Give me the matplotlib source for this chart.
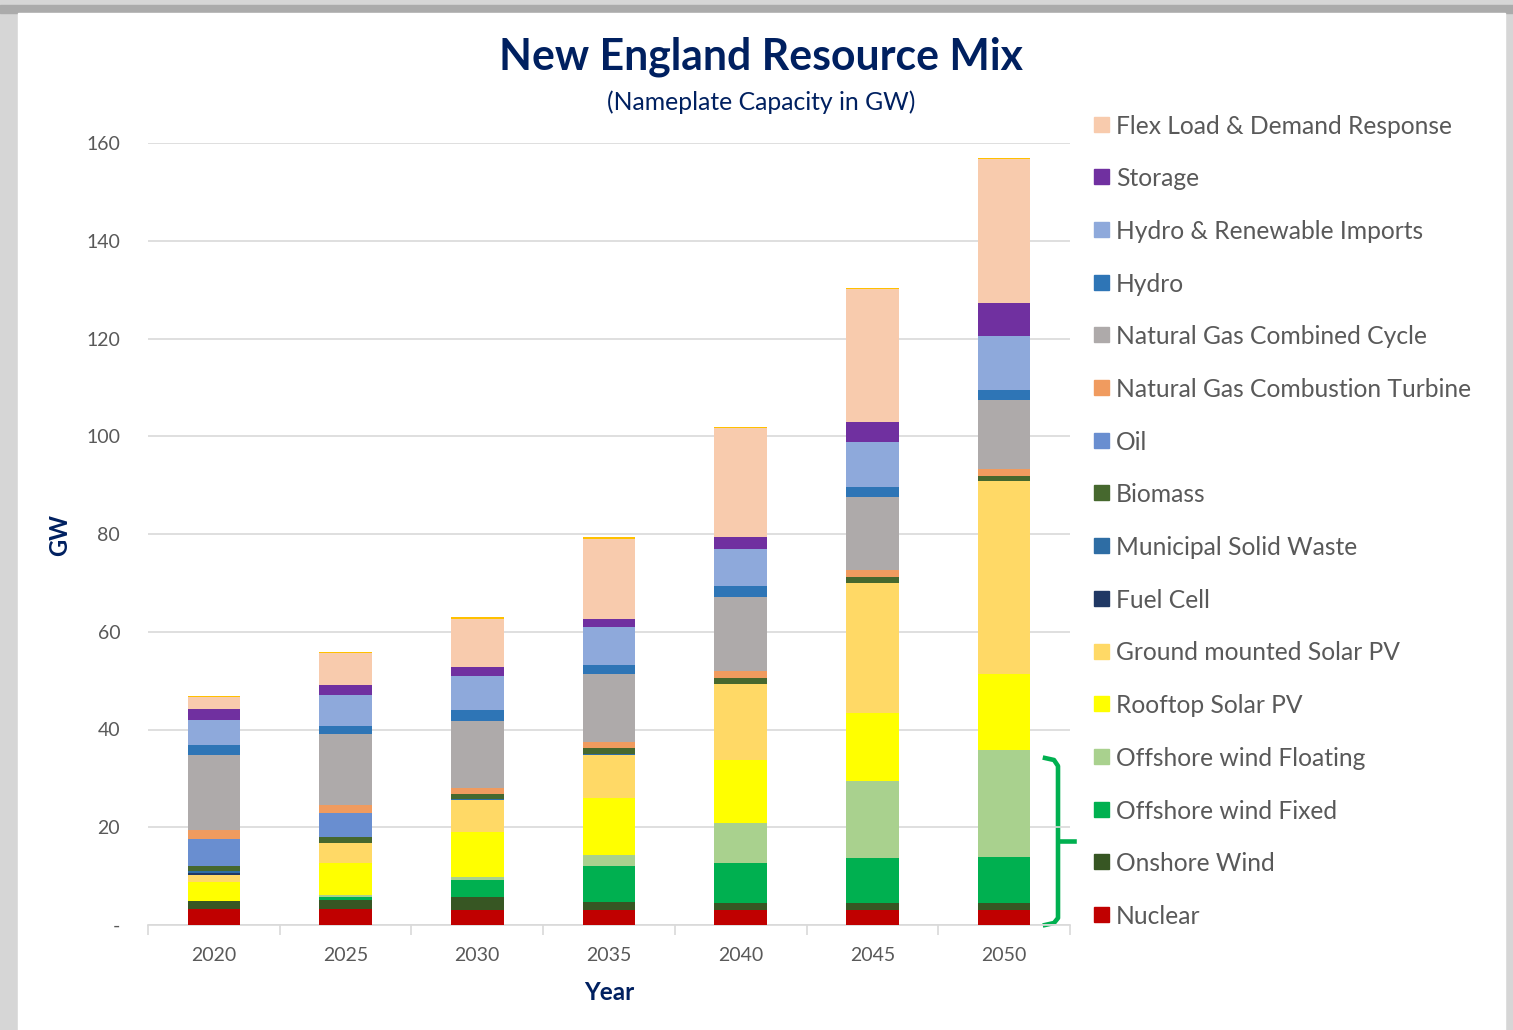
import matplotlib.pyplot as plt
from matplotlib.patches import Rectangle
from matplotlib.lines import Line2D
import numpy as np

plt.rcParams['font.family'] = ['Lato', 'DejaVu Sans']

# data (GW)
years = ['2020', '2025', '2030', '2035', '2040', '2045', '2050']
nuclear = [3.2, 3.2, 3.0, 3.0, 3.1, 3.1, 3.0]
onshore_wind = [1.8, 2.0, 2.7, 1.8, 1.4, 1.4, 1.4]
offshore_fixed = [0.0, 0.5, 3.6, 7.2, 8.1, 9.2, 9.5]
offshore_floating = [0.0, 0.4, 0.6, 2.3, 8.3, 15.7, 21.9]
rooftop_pv = [3.9, 6.5, 9.2, 11.6, 12.8, 13.9, 15.6]
ground_pv = [1.4, 4.2, 6.4, 8.9, 15.7, 26.6, 39.5]
fuel_cell = [0.3, 0.0, 0.0, 0.0, 0.0, 0.0, 0.0]
msw = [0.4, 0.0, 0.2, 0.2, 0.0, 0.0, 0.0]
biomass = [1.1, 1.2, 1.2, 1.2, 1.2, 1.2, 0.9]
oil = [5.5, 5.0, 0.0, 0.0, 0.0, 0.0, 0.0]
ng_ct = [1.9, 1.5, 1.2, 1.2, 1.4, 1.5, 1.4]
ng_cc = [15.3, 14.6, 13.7, 14.0, 15.2, 15.0, 14.3]
hydro = [2.0, 1.7, 2.1, 1.8, 2.1, 2.1, 2.0]
hydro_imports = [5.2, 6.3, 7.1, 7.7, 7.7, 9.2, 11.0]
storage = [2.1, 2.0, 1.8, 1.8, 2.3, 4.1, 6.8]
flex_load = [2.5, 6.5, 9.9, 16.3, 22.3, 27.1, 29.4]
top_line = [0.3, 0.3, 0.3, 0.3, 0.3, 0.3, 0.3]

# bottom -> top stacking order
series = [
    ('Nuclear', nuclear, '#C00000'),
    ('Onshore Wind', onshore_wind, '#375623'),
    ('Offshore wind Fixed', offshore_fixed, '#00B050'),
    ('Offshore wind Floating', offshore_floating, '#A9D18E'),
    ('Rooftop Solar PV', rooftop_pv, '#FFFF00'),
    ('Ground mounted Solar PV', ground_pv, '#FFD966'),
    ('Fuel Cell', fuel_cell, '#203864'),
    ('Municipal Solid Waste', msw, '#2E6DA4'),
    ('Biomass', biomass, '#46682E'),
    ('Oil', oil, '#698ED0'),
    ('Natural Gas Combustion Turbine', ng_ct, '#F09B5F'),
    ('Natural Gas Combined Cycle', ng_cc, '#AEAAAA'),
    ('Hydro', hydro, '#2E75B6'),
    ('Hydro & Renewable Imports', hydro_imports, '#8EA9DB'),
    ('Storage', storage, '#7030A0'),
    ('Flex Load & Demand Response', flex_load, '#F8CBAD'),
]

W, H = 1513, 1030
fig = plt.figure(figsize=(W / 100, H / 100), dpi=100, facecolor='#D6D6D6')


def fx(px):
    return px / W


def fy(py):
    return 1 - py / H


# card background with a grey shadow on top
fig.patches.append(Rectangle((fx(0), fy(13)), 1, 8 / H, transform=fig.transFigure,
                             color='#ABABAB', zorder=-10))
fig.patches.append(Rectangle((fx(18), 0), fx(1505) - fx(18), fy(13), transform=fig.transFigure,
                             color='white', zorder=-10))

ax = fig.add_axes([fx(148), fy(925), fx(1070) - fx(148), fy(143) - fy(925)])
ax.set_facecolor('none')
ax.set_zorder(2)

x = np.arange(len(years))
bottom = np.zeros(len(years))
for name, vals, col in series:
    ax.bar(x, vals, width=0.4, bottom=bottom, color=col, linewidth=0, zorder=3)
    bottom += np.array(vals)
ax.bar(x, top_line, width=0.4, bottom=bottom, color='#FFC000', linewidth=0, zorder=3)

ax.set_xlim(-0.5, len(years) - 0.5)
ax.set_ylim(0, 160)
ax.set_yticks(np.arange(0, 161, 20))
ax.set_yticklabels(['-'] + [str(v) for v in range(20, 161, 20)])
ax.grid(axis='y', color='#D9D9D9', linewidth=1.2, zorder=0)
ax.set_axisbelow(True)
ax.set_xticks(x)
ax.set_xticklabels(years)
ax.set_xticks(np.arange(-0.5, len(years)), minor=True)
ax.tick_params(axis='x', which='major', length=0, pad=16, labelsize=14, labelcolor='#595959')
ax.tick_params(axis='x', which='minor', length=7, color='#D9D9D9', width=1.2)
ax.tick_params(axis='y', length=0, pad=20, labelsize=14, labelcolor='#595959')
for s in ['top', 'right', 'left']:
    ax.spines[s].set_visible(False)
ax.spines['bottom'].set_color('#D9D9D9')
ax.spines['bottom'].set_linewidth(1.2)

fig.text(fx(761), fy(57), 'New England Resource Mix', ha='center', va='center',
         fontsize=30.8, fontweight='bold', color='#002060')
fig.text(fx(761), fy(102), '(Nameplate Capacity in GW)', ha='center', va='center',
         fontsize=17.8, color='#002060')
fig.text(fx(609), fy(992), 'Year', ha='center', va='center',
         fontsize=17.5, fontweight='bold', color='#002060')
fig.text(fx(60), fy(535), 'GW', ha='center', va='center', rotation=90,
         fontsize=17, fontweight='bold', color='#002060')

# legend, top -> bottom
for i, (name, vals, col) in enumerate(series[::-1]):
    cy = 124 + i * 52.7
    fig.patches.append(Rectangle((fx(1094), fy(cy + 7.5)), 15 / W, 15 / H,
                                 transform=fig.transFigure, color=col))
    fig.text(fx(1116), fy(cy + 2), name, ha='left', va='center', fontsize=17.7, color='#595959')

# green bracket grouping the wind resources
bx = [1045, 1054, 1058, 1058, 1054, 1045]
by = [758, 760, 766, 918, 923, 925]
fig.add_artist(Line2D([fx(v) for v in bx], [fy(v) for v in by], transform=fig.transFigure,
                      color='#00B050', linewidth=3.3, solid_joinstyle='round'))
fig.add_artist(Line2D([fx(1058), fx(1074)], [fy(841), fy(841)], transform=fig.transFigure,
                      color='#00B050', linewidth=3.3))

fig.savefig('out.png', dpi=100, facecolor=fig.get_facecolor())
